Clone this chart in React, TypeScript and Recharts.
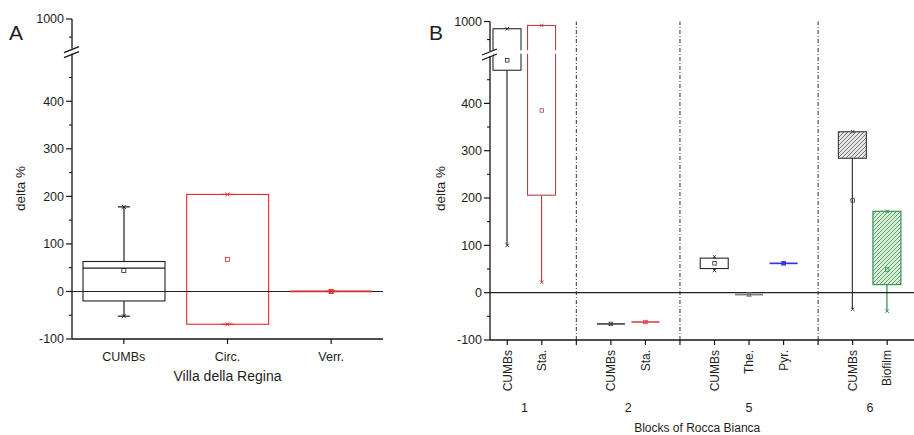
import React from 'react';
import { ComposedChart, Bar, Scatter, XAxis, YAxis, ReferenceLine } from 'recharts';

const FONT = '"Liberation Sans", Arial, Helvetica, sans-serif';
const TXT = '#1e1e1e';
const AXIS = '#151515';

// ---- broken y axis: lower segment up to BREAK_LOW, upper segment from BREAK_HIGH ----
const BREAK_LOW = 505;
const BREAK_HIGH = 920;
const BREAK_GAP = 7;
const UPPER_SCALE = 0.7625;
const toD = (v: number | null | undefined): number | null =>
  v == null ? null : v <= BREAK_LOW ? v : BREAK_LOW + BREAK_GAP + (v - BREAK_HIGH) * UPPER_SCALE;

const Y_MIN = -100;
const Y_MAX = 1000;
const yMajor = [-100, 0, 100, 200, 300, 400, 1000];
const yMinor = [-50, 50, 150, 250, 350, 450, 950];
const BREAK_D = BREAK_LOW + BREAK_GAP / 2;

const keyOf = (d: number) => d.toFixed(3);
const yTickInfo = new Map<string, { kind: string; label?: string }>();
yMajor.forEach((v) => yTickInfo.set(keyOf(toD(v) as number), { kind: 'major', label: String(v) }));
yMinor.forEach((v) => yTickInfo.set(keyOf(toD(v) as number), { kind: 'minor' }));
yTickInfo.set(keyOf(BREAK_D), { kind: 'break' });
const yTickVals = [...yMajor, ...yMinor].map((v) => toD(v) as number).concat([BREAK_D]);

// ---- Panel A : Villa della Regina ----
const catsA = ['CUMBs', 'Circ.', 'Verr.'];
const aQ1 = [-20, -69, 0];
const aQ3 = [63, 204, 0];
const aMed = [49, null, 0];
const aMean = [44, 67, 0];
const aMin = [-52, -69, 0];
const aMax = [178, 204, 0];
const aColor = ['#202020', '#e8282c', '#d42a2a'];

// ---- Panel B : Blocks of Rocca Bianca ----
const bGroups = ['1', '2', '5', '6'];
const bNames = [['CUMBs', 'Sta.'], ['CUMBs', 'Sta.'], ['CUMBs', 'The.', 'Pyr.'], ['CUMBs', 'Biofilm']];
const bQ1 = [[470, 206], [-66, -62], [51, -4, 62], [284, 17]];
const bQ3 = [[980, 989], [-66, -62], [73, -4, 62], [340, 172]];
const bMed = [[null, null], [-66, -62], [null, -4, 62], [null, null]];
const bMean = [[491, 385], [-66, -62], [62, -4, 62], [195, 49]];
const bMin = [[100, 22], [-66, -62], [47, -4, 62], [-35, -39]];
const bMax = [[980, 989], [-66, -62], [76, -4, 62], [340, 172]];
const bColor = [['#2a2a2a', '#b5404a'], ['#4a4a4a', '#d9505a'], ['#2a2a2a', '#7a7a7a', '#3535ee'], ['#3a3a3a', '#2f8a45']];
const bHatch: any[][] = [[null, null], [null, null], [null, null, null], [{ bg: '#e6e6e6', line: '#6a6a6a' }, { bg: '#d9efd9', line: '#4f9f5f' }]];

const makeRow = (id: string, name: string, q1: number, q3: number, med: number | null, mean: number, mn: number, mx: number, color: string, hatch: any) => ({
  id,
  name,
  box: q3 > q1 ? [toD(q1), toD(q3)] : undefined,
  whHi: mx > q3 ? [toD(q3), toD(mx)] : undefined,
  whLo: mn < q1 ? [toD(mn), toD(q1)] : undefined,
  q1: toD(q1),
  q3: toD(q3),
  flat: !(q3 > q1),
  med: q3 > q1 ? toD(med) : toD(q1),
  mean: toD(mean),
  min: toD(mn),
  max: toD(mx),
  color,
  hatch,
});

const rowsA = catsA.map((n, i) => makeRow(n, n, aQ1[i], aQ3[i], aMed[i], aMean[i], aMin[i], aMax[i], aColor[i], null));

const rowsB: any[] = [];
bGroups.forEach((g, gi) => {
  bNames[gi].forEach((n, j) => {
    const r: any = makeRow(`${g}-${n}`, n, bQ1[gi][j], bQ3[gi][j], bMed[gi][j], bMean[gi][j], bMin[gi][j], bMax[gi][j], bColor[gi][j], bHatch[gi][j]);
    r.group = g;
    r.pos = j;
    r.groupSize = bNames[gi].length;
    rowsB.push(r);
  });
  if (gi < bGroups.length - 1) rowsB.push({ id: `div${g}`, name: '', divider: true });
  else rowsB.push({ id: 'pad', name: '', pad: true });
});
const dividerIds = rowsB.filter((r) => r.divider).map((r) => r.id);
const usedSlotsB = rowsB.length - 1;

// ---- shapes ----
const BoxShape = (props: any) => {
  const { x, y, width, height, payload, index } = props;
  if (!payload || !payload.box || !Number.isFinite(y)) return null;
  const pid = `hatch-${payload.id.replace(/[^a-zA-Z0-9]/g, '')}-${index}`;
  const h = payload.hatch;
  const hi = payload.q3 as number;
  const lo = payload.q1 as number;
  const pix = (d: number) => y + ((hi - d) / (hi - lo)) * height;
  const crosses = hi > BREAK_LOW + BREAK_GAP && lo < BREAK_LOW;
  return (
    <g>
      {h && (
        <defs>
          <pattern id={pid} patternUnits="userSpaceOnUse" width={4} height={4}>
            <rect width={4} height={4} fill={h.bg} />
            <path d="M-1,1 l2,-2 M0,4 l4,-4 M3,5 l2,-2" stroke={h.line} strokeWidth={0.9} />
          </pattern>
        </defs>
      )}
      <rect x={x} y={y} width={width} height={height} fill={h ? `url(#${pid})` : 'none'} stroke={payload.color} strokeWidth={1.1} />
      {crosses && (
        <rect x={x - 2} y={pix(BREAK_LOW + BREAK_GAP)} width={width + 4} height={pix(BREAK_LOW) - pix(BREAK_LOW + BREAK_GAP)} fill="#fff" />
      )}
    </g>
  );
};

const WhiskerShape = (props: any) => {
  const { x, y, width, height, payload } = props;
  if (!payload || !Number.isFinite(y)) return null;
  const cx = x + width / 2;
  return <line x1={cx} x2={cx} y1={y} y2={y + height} stroke={payload.color} strokeWidth={1.2} />;
};

const makeMedian = (w: number) => (props: any) => {
  const { cx, cy, payload } = props;
  if (!payload || payload.med == null || !Number.isFinite(cy)) return null;
  return <line x1={cx - w / 2} x2={cx + w / 2} y1={cy} y2={cy} stroke={payload.color} strokeWidth={payload.flat ? 1.7 : 1.1} />;
};

const makeMean = (s: number, filledIds: string[]) => (props: any) => {
  const { cx, cy, payload } = props;
  if (!payload || payload.mean == null || !Number.isFinite(cy)) return null;
  const filled = filledIds.includes(payload.id);
  return <rect x={cx - s / 2} y={cy - s / 2} width={s} height={s} fill={filled ? payload.color : 'none'} stroke={payload.color} strokeWidth={0.8} />;
};

const makeExtreme = (key: string, capW: number, m: number) => (props: any) => {
  const { cx, cy, payload } = props;
  if (!payload || payload[key] == null || !Number.isFinite(cy)) return null;
  const c = payload.color;
  return (
    <g>
      {capW > 0 && <line x1={cx - capW / 2} x2={cx + capW / 2} y1={cy} y2={cy} stroke={c} strokeWidth={1.2} />}
      <line x1={cx - m} x2={cx + m} y1={cy - m} y2={cy + m} stroke={c} strokeWidth={0.9} />
      <line x1={cx - m} x2={cx + m} y1={cy + m} y2={cy - m} stroke={c} strokeWidth={0.9} />
    </g>
  );
};

// ---- axes ticks / labels ----
const YTick = (props: any) => {
  const { x, y, payload } = props;
  const info = yTickInfo.get(keyOf(payload.value));
  if (!info) return null;
  if (info.kind === 'break') {
    return (
      <g>
        <rect x={x - 3} y={y - 1} width={6} height={5} fill="#fff" />
        <line x1={x - 8} y1={y + 3} x2={x + 7} y2={y - 3} stroke={AXIS} strokeWidth={1.2} />
        <line x1={x - 8} y1={y + 8} x2={x + 7} y2={y + 2} stroke={AXIS} strokeWidth={1.2} />
      </g>
    );
  }
  if (info.kind === 'minor') return <line x1={x - 3} x2={x} y1={y} y2={y} stroke={AXIS} strokeWidth={1.1} />;
  return (
    <g>
      <line x1={x - 6} x2={x} y1={y} y2={y} stroke={AXIS} strokeWidth={1.2} />
      <text x={x - 8} y={y} dy={4.4} textAnchor="end" fontSize={12.5} fill={TXT} fontFamily={FONT}>
        {info.label}
      </text>
    </g>
  );
};

const CatTickA = (props: any) => {
  const { x, y, payload } = props;
  return (
    <g>
      <line x1={x} x2={x} y1={y} y2={y + 5} stroke={AXIS} strokeWidth={1.2} />
      <text x={x} y={y + 22} textAnchor="middle" fontSize={12.5} fill={TXT} fontFamily={FONT}>
        {payload.value}
      </text>
    </g>
  );
};

const CatTickB = (props: any) => {
  const { x, y, payload } = props;
  const row = rowsB.find((r) => r.id === payload.value);
  if (!row) return null;
  const half = Number.isFinite(payload.offset) ? payload.offset : 17.27;
  return (
    <g>
      <line x1={x} x2={x} y1={y} y2={y + 5} stroke={AXIS} strokeWidth={1.2} />
      {row.name && (
        <text x={x} y={y + 10} dy={4.3} textAnchor="end" fontSize={12} fill={TXT} fontFamily={FONT} transform={`rotate(-90, ${x}, ${y + 10})`}>
          {row.name}
        </text>
      )}
      {row.pos === 0 && (
        <text x={x + (row.groupSize - 1) * half} y={y + 71.5} textAnchor="middle" fontSize={12.5} fill={TXT} fontFamily={FONT}>
          {row.group}
        </text>
      )}
    </g>
  );
};

const YLabel = (props: any) => {
  const { viewBox, letter } = props;
  const vx = viewBox ? viewBox.x : 0;
  return (
    <g>
      <text x={vx + 9} y={40} fontSize={21} fill={TXT} fontFamily={FONT}>
        {letter}
      </text>
      <text x={vx + 20} y={188.5} dy={4.5} textAnchor="middle" fontSize={13.5} fill={TXT} fontFamily={FONT} transform={`rotate(-90, ${vx + 20}, 188.5)`}>
        delta %
      </text>
    </g>
  );
};

const XLabelA = (props: any) => {
  const { viewBox } = props;
  if (!viewBox) return null;
  return (
    <text x={viewBox.x + viewBox.width / 2} y={viewBox.y + 41.5} textAnchor="middle" fontSize={14} fill={TXT} fontFamily={FONT}>
      Villa della Regina
    </text>
  );
};

const XLabelB = (props: any) => {
  const { viewBox } = props;
  if (!viewBox) return null;
  const cx = viewBox.x + (viewBox.width * usedSlotsB) / rowsB.length / 2;
  return (
    <text x={cx} y={viewBox.y + 92} textAnchor="middle" fontSize={12} fill={TXT} fontFamily={FONT}>
      Blocks of Rocca Bianca
    </text>
  );
};

const yAxisCommon = {
  type: 'number' as const,
  domain: [toD(Y_MIN) as number, toD(Y_MAX) as number],
  allowDataOverflow: true,
  ticks: yTickVals,
  interval: 0 as const,
  tick: <YTick />,
  tickLine: false,
  tickSize: 0,
  tickMargin: 0,
  axisLine: { stroke: AXIS, strokeWidth: 1.3 },
};

export default function App() {
  return (
    <div style={{ position: 'fixed', left: 0, top: 0, width: 914, height: 435, overflow: 'hidden', background: '#fff' }}>
      <div style={{ position: 'absolute', left: 0, top: 0 }}>
        <ComposedChart width={400} height={435} data={rowsA} margin={{ top: 19, right: 17, bottom: 0, left: 0 }}>
          <XAxis xAxisId="m" dataKey="id" type="category" height={96} interval={0} tickLine={false} tickSize={0} tickMargin={0} tick={<CatTickA />} axisLine={{ stroke: AXIS, strokeWidth: 1.3 }} label={<XLabelA />} />
          <XAxis xAxisId="w1" dataKey="id" type="category" hide />
          <XAxis xAxisId="w2" dataKey="id" type="category" hide />
          <YAxis width={72} {...yAxisCommon} label={<YLabel letter="A" />} />
          <ReferenceLine xAxisId="m" y={0} stroke="#222" strokeWidth={1.1} />
          <Bar xAxisId="m" dataKey="box" barSize={82} shape={<BoxShape />} isAnimationActive={false} />
          <Bar xAxisId="w1" dataKey="whHi" barSize={10} shape={<WhiskerShape />} isAnimationActive={false} />
          <Bar xAxisId="w2" dataKey="whLo" barSize={10} shape={<WhiskerShape />} isAnimationActive={false} />
          <Scatter xAxisId="m" dataKey="med" shape={makeMedian(82)} isAnimationActive={false} />
          <Scatter xAxisId="m" dataKey="mean" shape={makeMean(4, [])} isAnimationActive={false} />
          <Scatter xAxisId="m" dataKey="max" shape={makeExtreme('max', 12, 2)} isAnimationActive={false} />
          <Scatter xAxisId="m" dataKey="min" shape={makeExtreme('min', 12, 2)} isAnimationActive={false} />
        </ComposedChart>
      </div>
      <div style={{ position: 'absolute', left: 420, top: 0 }}>
        <ComposedChart width={519} height={435} data={rowsB} margin={{ top: 21.5, right: 0, bottom: 0, left: 0 }}>
          <XAxis xAxisId="m" dataKey="id" type="category" height={95} interval={0} tickLine={false} tickSize={0} tickMargin={0} tick={<CatTickB />} axisLine={{ stroke: AXIS, strokeWidth: 1.3 }} label={<XLabelB />} />
          <XAxis xAxisId="w1" dataKey="id" type="category" hide />
          <XAxis xAxisId="w2" dataKey="id" type="category" hide />
          <YAxis width={70} {...yAxisCommon} label={<YLabel letter="B" />} />
          {dividerIds.map((d) => (
            <ReferenceLine key={d} xAxisId="m" x={d} stroke="#444" strokeWidth={1.1} strokeDasharray="4 2 1 2" />
          ))}
          <ReferenceLine xAxisId="m" y={0} stroke="#222" strokeWidth={1.1} />
          <Bar xAxisId="m" dataKey="box" barSize={28} shape={<BoxShape />} isAnimationActive={false} />
          <Bar xAxisId="w1" dataKey="whHi" barSize={6} shape={<WhiskerShape />} isAnimationActive={false} />
          <Bar xAxisId="w2" dataKey="whLo" barSize={6} shape={<WhiskerShape />} isAnimationActive={false} />
          <Scatter xAxisId="m" dataKey="med" shape={makeMedian(28)} isAnimationActive={false} />
          <Scatter xAxisId="m" dataKey="mean" shape={makeMean(3.5, ['5-Pyr.'])} isAnimationActive={false} />
          <Scatter xAxisId="m" dataKey="max" shape={makeExtreme('max', 0, 1.8)} isAnimationActive={false} />
          <Scatter xAxisId="m" dataKey="min" shape={makeExtreme('min', 0, 1.8)} isAnimationActive={false} />
        </ComposedChart>
      </div>
    </div>
  );
}
